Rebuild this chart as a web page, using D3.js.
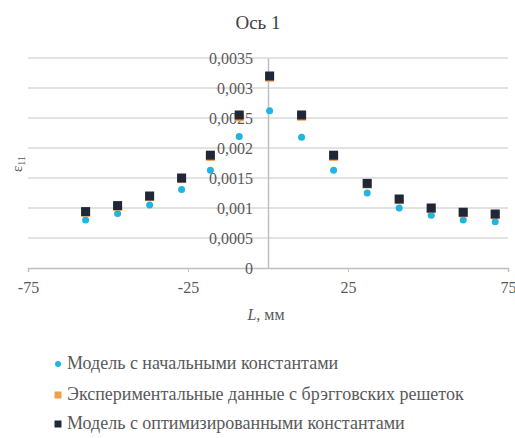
<!DOCTYPE html>
<html>
<head>
<meta charset="utf-8">
<script src="https://cdn.jsdelivr.net/npm/d3@7"></script>
</head>
<body style="margin:0">
<script>
"use strict"

/*** DATA ***/
let positions = [-57, -47, -37, -27, -18, -9, 0.5, 10.5, 20.5, 31, 41, 51, 61, 71]     // L, мм
let initialModel = [0.0008, 0.00091, 0.00105, 0.00131, 0.00163, 0.00219, 0.00262,
                    0.00218, 0.00163, 0.00125, 0.001, 0.00088, 0.0008, 0.00077]
let experiment = [0.00093, 0.00103, 0.00119, 0.00149, 0.00186, 0.00252, 0.00318,
                  0.00253, 0.00186, 0.0014, 0.00114, 0.00099, 0.00092, 0.00089]
let optimizedModel = [0.00094, 0.00104, 0.0012, 0.0015, 0.00188, 0.00255, 0.0032,
                      0.00255, 0.00188, 0.00141, 0.00115, 0.001, 0.00093, 0.0009]
let xTicks = [-75, -25, 25, 75]
let yTicks = [0, 0.0005, 0.001, 0.0015, 0.002, 0.0025, 0.003, 0.0035]
let seriesNames = [
    "Модель с начальными константами",
    "Экспериментальные данные с брэгговских решеток",
    "Модель с оптимизированными константами"
]

/*** CANVAS SETUP ***/
let svgWidth = 515
let svgHeight = 438
let margin = { top: 58, right: 7, bottom: 170, left: 28 }
let serif = "Liberation Serif"

let svg = d3.select("body")
    .append("svg")
    .attr("width", svgWidth)
    .attr("height", svgHeight)
    .style("display", "block")

let xScale = d3.scaleLinear()
    .domain([-75, 75])
    .range([margin.left, svgWidth - margin.right])

let yScale = d3.scaleLinear()
    .domain([0, 0.0035])
    .range([svgHeight - margin.bottom, margin.top])

let fmt = d => d3.format("")(d).replace(".", ",")

/* Gridlines */
svg.append("g")
    .selectAll("line")
    .data(yTicks.slice(1))
    .join("line")
    .attr("x1", xScale(-75))
    .attr("x2", xScale(75))
    .attr("y1", d => yScale(d))
    .attr("y2", d => yScale(d))
    .attr("stroke", "#d9d9d9")
    .attr("stroke-width", 1.5)

/* X axis (horizontal line at y = 0) */
let xAxis = d3.axisBottom(xScale)
    .tickValues(xTicks)
    .tickSize(4)
    .tickFormat(d => d)

let gx = svg.append("g")
    .attr("transform", `translate(0, ${yScale(0)})`)
    .call(xAxis)
    .attr("font-family", serif)
    .attr("font-size", 16)
gx.select(".domain").attr("stroke", "#bfbfbf").attr("stroke-width", 1.5)
gx.selectAll(".tick line").attr("stroke", "#bfbfbf")
gx.selectAll(".tick text")
    .attr("fill", "#595959")
    .attr("y", 11)
    .attr("dy", "0.9em")

/* Y axis (vertical line at x = 0) */
let yAxis = d3.axisLeft(yScale)
    .tickValues(yTicks)
    .tickSize(0)
    .tickPadding(15)
    .tickFormat(fmt)

let gy = svg.append("g")
    .attr("transform", `translate(${xScale(0)}, 0)`)
    .call(yAxis)
    .attr("font-family", serif)
    .attr("font-size", 16)
gy.select(".domain").attr("stroke", "#bfbfbf").attr("stroke-width", 1.5)
gy.selectAll(".tick text")
    .attr("fill", "#595959")

/* Series */
let rows = positions.map((x, i) => ({
    x: x, a: initialModel[i], b: experiment[i], c: optimizedModel[i]
}))

svg.append("g")
    .selectAll("circle")
    .data(rows)
    .join("circle")
    .attr("cx", d => xScale(d.x))
    .attr("cy", d => yScale(d.a))
    .attr("r", 3.5)
    .attr("fill", "#21b4df")

svg.append("g")
    .selectAll("rect")
    .data(rows)
    .join("rect")
    .attr("x", d => xScale(d.x) - 4.5)
    .attr("y", d => yScale(d.b) - 4.5)
    .attr("width", 9)
    .attr("height", 9)
    .attr("fill", "#f0a04b")

svg.append("g")
    .selectAll("rect")
    .data(rows)
    .join("rect")
    .attr("x", d => xScale(d.x) - 4.5)
    .attr("y", d => yScale(d.c) - 4.5)
    .attr("width", 9)
    .attr("height", 9)
    .attr("fill", "#1e2838")

/* Titles */
svg.append("text")
    .attr("x", 258)
    .attr("y", 29)
    .attr("text-anchor", "middle")
    .attr("font-family", serif)
    .attr("font-size", 19)
    .attr("fill", "#404040")
    .text("Ось 1")

svg.append("text")
    .attr("transform", "translate(22, 164) rotate(-90)")
    .attr("text-anchor", "middle")
    .attr("font-family", serif)
    .attr("font-size", 15)
    .attr("fill", "#595959")
    .text("ε")
    .append("tspan")
    .attr("font-size", 10)
    .attr("dy", 3)
    .text("11")

let xLabel = svg.append("text")
    .attr("x", 266)
    .attr("y", 320)
    .attr("text-anchor", "middle")
    .attr("font-family", serif)
    .attr("font-size", 16)
    .attr("fill", "#595959")
xLabel.append("tspan").attr("font-style", "italic").text("L")
xLabel.append("tspan").text(", мм")

/* Legend */
let legendColors = ["#21b4df", "#f0a04b", "#1e2838"]
let legendY = [364, 395, 424]
let legend = svg.append("g")

legend.selectAll("g")
    .data(seriesNames)
    .join("g")
    .attr("transform", (d, i) => `translate(58, ${legendY[i]})`)
    .each(function (d, i) {
        let g = d3.select(this)
        if (i === 0) {
            g.append("circle").attr("r", 3).attr("fill", legendColors[i])
        } else {
            g.append("rect")
                .attr("x", -3.5).attr("y", -3.5)
                .attr("width", 7).attr("height", 7)
                .attr("fill", legendColors[i])
        }
        g.append("text")
            .attr("x", 9)
            .attr("y", 5)
            .attr("font-family", serif)
            .attr("font-size", 18)
            .attr("fill", "#595959")
            .text(d)
    })
</script>
</body>
</html>
